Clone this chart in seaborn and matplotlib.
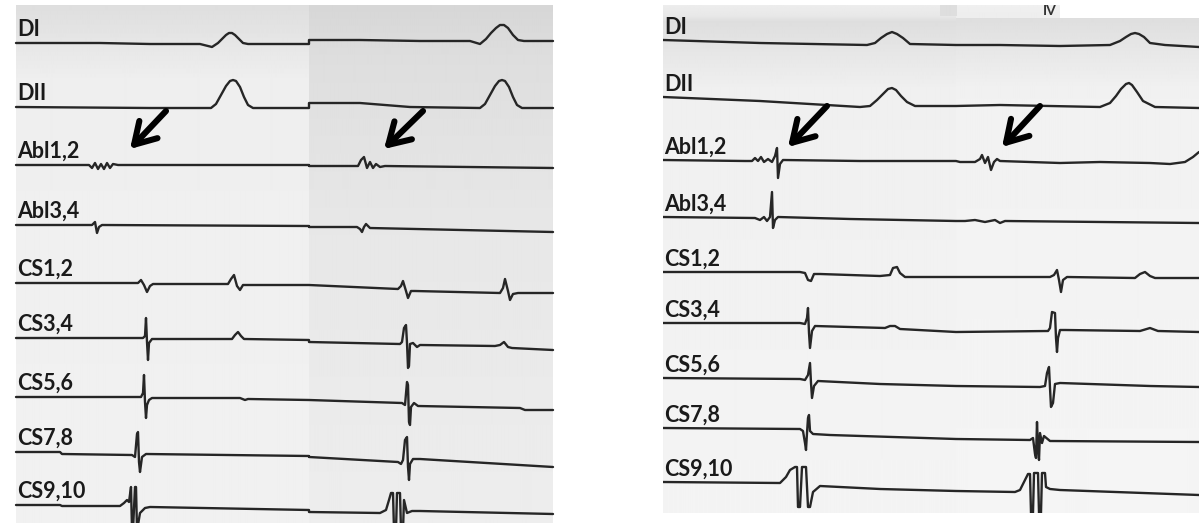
import numpy as np
import matplotlib
matplotlib.use("Agg")
import matplotlib.pyplot as plt
from matplotlib.patches import Rectangle
import seaborn as sns

CHANNELS = ["DI", "DII", "Abl1,2", "Abl3,4", "CS1,2", "CS3,4", "CS5,6", "CS7,8", "CS9,10"]

# ---- Left recording: (time, deflection) keypoints ----
L_DI = [(16,0),(100,0),(150,-1),(200,-1),(212,-4),(218,0),(222,4),(226,8),(229,10),(232,10),(235,8),(239,4),
        (243,0),(248,-1),(309,-1),
        (309,3),(360,3),(420,2),(470,2),(480,-1),(486,4),(491,10),(496,15),(500,18),(504,18),(508,15),
        (513,8),(518,3),(524,2),(553,2)]
L_DII = [(16,0),(150,-1),(211,-1),(216,3),(221,12),(226,21),(230,26),(233,27),(236,26),(240,20),(244,10),
         (248,2),(253,-1),(309,-1),
         (309,4),(360,4),(410,0),(480,-1),(485,3),(490,12),(495,21),(499,26),(502,27),(505,26),(509,20),
         (513,10),(517,2),(522,-1),(553,-1)]
L_ABL12 = [(16,0),(89,0),(92,-3),(95,2),(98,-4),(101,1),(104,-4),(107,2),(110,-3),(113,1),(118,0),(309,0),
           (309,-1),(358,-1),(361,5),(364,8),(367,-3),(370,3),(373,-3),(376,1),(380,-2),(385,-1),(553,-3)]
L_ABL34 = [(16,0),(92,0),(95,3),(97,-8),(99,-2),(102,0),(309,-1),
           (309,-2),(357,-2),(360,-4),(362,-7),(364,-2),(366,1),(370,-3),(553,-7)]
L_CS12 = [(16,0),(138,0),(141,3),(144,-2),(147,-9),(150,-3),(153,-1),(228,-1),(231,4),(234,8),(237,-3),(240,-7),
          (243,-2),(309,-2),(398,-6),(401,-3),(403,2),(406,-8),(408,-15),(411,-8),(415,-8),(500,-10),(503,-5),
          (505,4),(508,-8),(510,-17),(513,-11),(518,-10),(553,-10)]
L_CS34 = [(16,0),(143,0),(145,2),(146,20),(147,-4),(148,-22),(149,-5),(152,-1),(232,-1),(235,3),(238,6),(241,2),
          (244,-1),(309,-2),(309,-4),(400,-6),(402,-4),(404,10),(406,13),(407,-5),(408,-30),(409,-28),(410,-6),
          (413,-5),(417,-9),(420,-7),(495,-8),(500,-7),(504,-4),(508,-9),(512,-10),(553,-12)]
L_CS56 = [(16,0),(141,0),(143,4),(144,22),(145,-5),(146,-21),(147,-8),(149,-3),(152,-1),(240,-1),(245,-3),
          (248,-2),(309,-3),(402,-6),(405,-8),(407,15),(408,12),(409,-25),(410,-28),(411,-10),(414,-6),
          (418,-9),(520,-11),(525,-13),(553,-13)]
L_CS78 = [(16,0),(60,0),(62,-2),(132,-3),(135,-5),(137,18),(138,20),(139,-10),(140,-20),(142,-5),(146,-2),
          (309,-4),(309,-5),(398,-10),(401,-12),(403,-8),(405,12),(407,15),(408,-15),(409,-28),(410,-12),
          (413,-7),(420,-7),(553,-15)]
L_CS910 = [(16,0),(60,0),(62,-1),(120,-1),(124,2),(127,5),(129,3),(131,18),(132,-25),(133,-25),(135,18),
           (136,18),(137,-25),(138,-20),(140,-8),(145,-3),(150,-2),(309,-5),(309,-7),(380,-8),(386,-5),
           (389,5),(391,12),(393,12),(394,-25),(396,-25),(397,12),(400,12),(401,-25),(403,-25),(404,5),
           (407,-8),(412,-6),(420,-6),(553,-9)]

# ---- Right recording ----
R_DI = [(663,0),(760,-3),(867,-5),(875,-3),(881,2),(887,6),(892,8),(897,6),(903,2),(910,-4),(956,-5),
        (1000,-5),(1060,-6),(1110,-5),(1120,-1),(1126,3),(1131,6),(1135,7),(1139,6),(1144,3),(1150,-3),
        (1165,-5),(1199,-7)]
R_DII = [(663,0),(760,-4),(860,-10),(870,-9),(877,-3),(883,3),(888,8),(892,9),(896,7),(901,1),(907,-5),
         (915,-9),(956,-9),(1000,-8),(1100,-10),(1110,-6),(1116,1),(1121,8),(1126,13),(1129,14),(1132,12),
         (1137,5),(1143,-4),(1155,-10),(1199,-11)]
R_ABL12 = [(663,0),(745,-1),(752,-1),(755,2),(758,-1),(761,3),(764,-2),(768,1),(772,-2),(775,4),(777,12),
           (778,-18),(780,-4),(783,0),(860,-1),(956,-1),(960,-2),(975,-2),(980,1),(982,5),(985,-3),(988,3),
           (991,-10),(994,-2),(997,1),(1000,-1),(1060,-3),(1100,-2),(1150,-3),(1170,-4),(1185,-2),(1193,3),
           (1199,8)]
R_ABL34 = [(663,0),(755,-1),(760,-3),(764,0),(767,-4),(770,0),(772,25),(773,-11),(775,-3),(778,0),(850,-2),
           (956,-4),(965,-4),(975,-3),(985,-5),(995,-3),(1000,-6),(1005,-4),(1199,-6)]
R_CS12 = [(663,0),(800,0),(805,-1),(808,-8),(811,-9),(814,-2),(820,-2),(880,-4),(890,-3),(893,4),(897,5),
          (900,-1),(905,-5),(956,-5),(1050,-5),(1054,-3),(1057,2),(1059,-8),(1061,-20),(1063,-8),(1067,-5),
          (1135,-6),(1140,-2),(1145,0),(1150,-4),(1155,-6),(1199,-6)]
R_CS34 = [(663,0),(800,0),(805,-1),(807,5),(808,15),(809,-10),(810,-25),(812,-8),(815,-3),(885,-5),(890,-3),
          (895,-3),(900,-6),(956,-9),(1048,-8),(1050,-5),(1052,11),(1055,10),(1056,-15),(1057,-29),
          (1058,-15),(1060,-7),(1065,-7),(1140,-8),(1150,-5),(1158,-8),(1199,-9)]
R_CS56 = [(663,0),(800,-1),(805,-2),(808,3),(810,15),(811,-5),(812,-20),(814,-8),(818,-3),(880,-6),(956,-8),
          (1040,-9),(1045,-8),(1047,5),(1049,11),(1050,-10),(1051,-29),(1053,-25),(1055,-6),(1060,-5),
          (1150,-8),(1199,-9)]
R_CS78 = [(663,0),(800,-1),(803,-3),(805,-15),(806,-22),(807,-5),(808,10),(809,13),(810,-3),(813,-6),
          (830,-7),(956,-11),(1030,-12),(1033,-10),(1035,-26),(1036,-30),(1037,6),(1038,-20),(1039,-32),
          (1040,-5),(1042,-15),(1044,-8),(1050,-13),(1199,-14)]
R_CS910 = [(663,0),(780,-1),(786,5),(790,12),(795,15),(797,15),(798,-25),(800,-25),(802,15),(806,15),
           (808,-25),(810,-25),(813,-10),(820,-4),(880,-7),(956,-9),(1015,-10),(1020,-8),(1025,2),(1028,8),
           (1030,8),(1031,-31),(1033,-31),(1034,9),(1038,9),(1039,-31),(1041,-31),(1042,9),(1045,9),
           (1046,-5),(1050,-7),(1060,-8),(1199,-13)]

LEFT_TRACES = [L_DI, L_DII, L_ABL12, L_ABL34, L_CS12, L_CS34, L_CS56, L_CS78, L_CS910]
RIGHT_TRACES = [R_DI, R_DII, R_ABL12, R_ABL34, R_CS12, R_CS34, R_CS56, R_CS78, R_CS910]

# ---- layout ----
LEFT_BASE = [43, 107, 165, 225, 283, 338, 397, 452, 505]
RIGHT_BASE = [40, 97, 160, 217, 272, 323, 378, 428, 482]
ARROWS = [((166, 111), (130, 149)), ((423, 111), (384, 149)),
          ((827, 106), (788, 147)), ((1040, 106), (1002, 147))]

sns.set_theme(style="white")
plt.rcParams["font.family"] = ["Lato", "DejaVu Sans"]

fig = plt.figure(figsize=(11.99, 5.23), dpi=100)
fig.patch.set_facecolor("white")
ax = fig.add_axes([0, 0, 1, 1])


def grad(x0, x1, y0, y1, stops):
    ys = np.arange(y0, y1) + 0.5
    vals = np.interp(ys, [s[0] for s in stops], [s[1] for s in stops])
    img = np.repeat(vals[:, None], 2, axis=1)
    ax.imshow(img, extent=(x0, x1, y1, y0), cmap="gray", vmin=0, vmax=1,
              aspect="auto", interpolation="bilinear", zorder=0)


# left panel backgrounds
grad(16, 309, 5, 523, [(5, 0.87), (40, 0.90), (80, 0.935), (523, 0.945)])
grad(309, 553, 5, 523, [(5, 0.84), (60, 0.87), (220, 0.905), (523, 0.93)])
# right panel backgrounds
grad(663, 956, 5, 513, [(5, 0.93), (16, 0.91), (22, 0.87), (50, 0.90), (90, 0.94), (513, 0.955)])
grad(956, 1199, 18, 513, [(18, 0.87), (50, 0.905), (90, 0.945), (513, 0.96)])
grad(956, 1060, 5, 18, [(5, 0.94), (18, 0.93)])
grad(940, 957, 5, 16, [(5, 0.87), (16, 0.87)])
ax.text(1050, 15, "IV", fontsize=10, fontweight="bold", color="#333333",
        ha="center", va="baseline", zorder=1)

right_clip = Rectangle((663, 5), 536, 508, transform=ax.transData)

for traces, bases, side in ((LEFT_TRACES, LEFT_BASE, "L"), (RIGHT_TRACES, RIGHT_BASE, "R")):
    for tr, base in zip(traces, bases):
        t = [p[0] for p in tr]
        y = [base - p[1] for p in tr]
        sns.lineplot(x=t, y=y, ax=ax, sort=False, estimator=None, color="#262626",
                     linewidth=1.7, legend=False)
        ln = ax.lines[-1]
        ln.set_solid_joinstyle("round")
        ln.set_solid_capstyle("round")
        ln.set_zorder(3)
        if side == "R":
            ln.set_clip_path(right_clip)

for name, base in zip(CHANNELS, LEFT_BASE):
    ax.text(17, base - 7, name, fontsize=15.5, fontweight="bold", color="#1a1a1a",
            va="baseline", ha="left", zorder=4)
for name, base in zip(CHANNELS, RIGHT_BASE):
    ax.text(664, base - 6, name, fontsize=15.5, fontweight="bold", color="#1a1a1a",
            va="baseline", ha="left", zorder=4)

for tail, head in ARROWS:
    ax.annotate("", xy=head, xytext=tail,
                arrowprops=dict(arrowstyle="->,head_length=0.75,head_width=0.45",
                                lw=4.4, color="black", shrinkA=0, shrinkB=0,
                                mutation_scale=20), zorder=5)

ax.set_xlim(0, 1199)
ax.set_ylim(523, 0)
ax.axis("off")
fig.savefig("out.png", dpi=100, facecolor="white")
